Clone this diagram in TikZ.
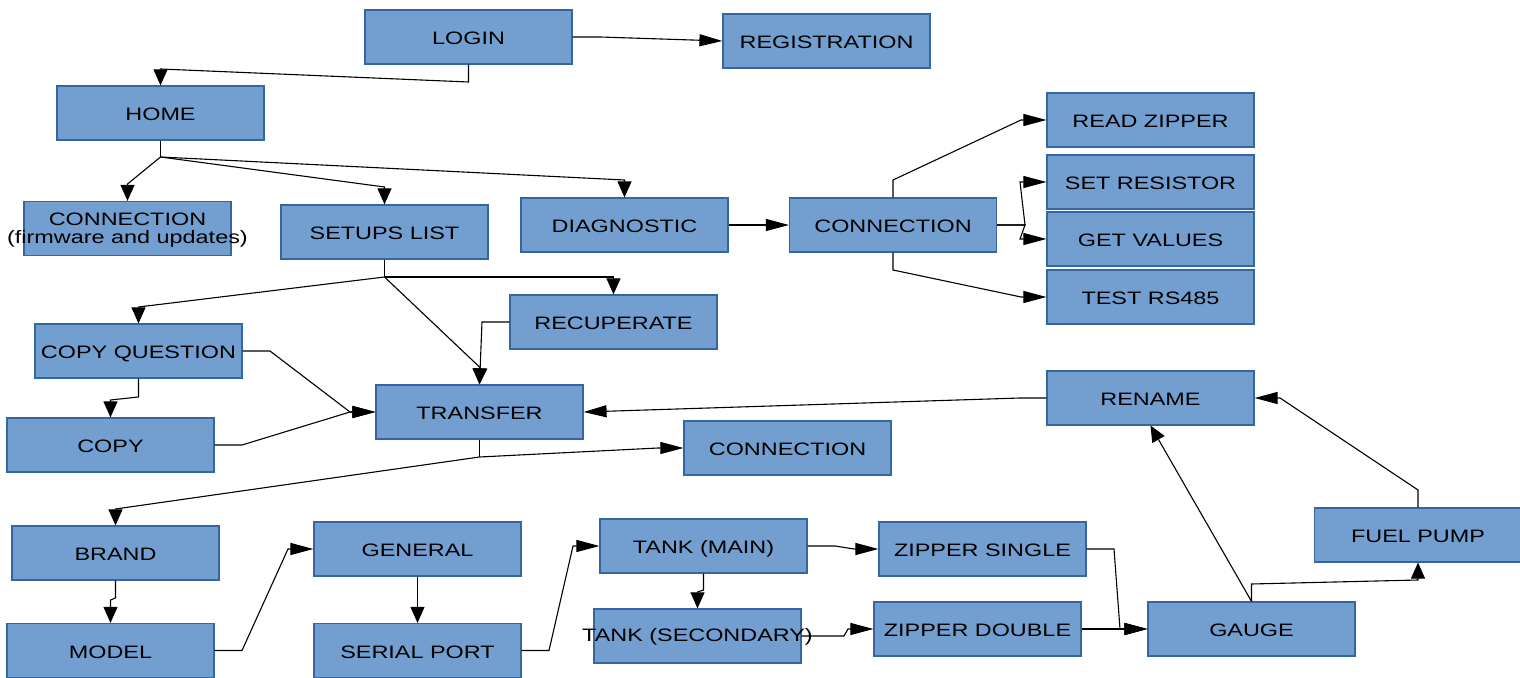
\documentclass[tikz,border=0pt]{standalone}
\usepackage{fontspec}
\newfontfamily\lbl[FakeStretch=1.3]{Liberation Sans}
\usetikzlibrary{arrows.meta}
\definecolor{boxfill}{HTML}{729FCF}
\definecolor{boxline}{HTML}{3465A4}
\begin{document}
\begin{tikzpicture}[x=0.5pt,y=-0.5pt,
  box/.style={draw=boxline, fill=boxfill, line width=0.6pt, minimum width=103.5pt, minimum height=27pt, inner sep=0pt, text height=7.8pt, text depth=0pt, font={\lbl\fontsize{9pt}{9pt}\selectfont}, align=center},
  lab/.style={inner sep=0pt, font={\lbl\fontsize{9pt}{9pt}\selectfont}, align=center},
  plain/.style={line width=0.55pt},
  harr/.style={plain, -{Triangle[length=11.5pt,width=6pt]}},
  varr/.style={plain, -{Triangle[length=8pt,width=7pt]}}]
\useasboundingbox (0,0) rectangle (1520,678);
\fill[white] (0,0) rectangle (1520,678);
% boxes
\node[box] (login) at (468.5,37) {LOGIN};
\node[box] (reg) at (826.5,41) {REGISTRATION};
\node[box] (home) at (160.5,113) {HOME};
\node[box] (conna) at (127.5,228.5) {};
\node[lab] at (127.5,230.5) {CONNECTION\\(firmware and updates)};
\node[box] (setups) at (384.5,232) {SETUPS LIST};
\node[box] (diag) at (624.5,225) {DIAGNOSTIC};
\node[box] (connb) at (893,225) {CONNECTION};
\node[box] (read) at (1150.5,120) {READ ZIPPER};
\node[box] (setr) at (1150.5,182) {SET RESISTOR};
\node[box] (getv) at (1150.5,239) {GET VALUES};
\node[box] (test) at (1150.5,297) {TEST RS485};
\node[box] (cq) at (138.5,351) {COPY QUESTION};
\node[box] (recup) at (613.5,322) {RECUPERATE};
\node[box] (transfer) at (479.5,412) {TRANSFER};
\node[box] (copy) at (110.5,445) {COPY};
\node[box] (connc) at (787.5,448) {CONNECTION};
\node[box] (rename) at (1150.5,398) {RENAME};
\node[box] (brand) at (115.5,553) {BRAND};
\node[box] (model) at (110.5,650.5) {MODEL};
\node[box] (general) at (417.5,549) {GENERAL};
\node[box] (serial) at (417.5,650.5) {SERIAL PORT};
\node[box] (tankm) at (703.5,546) {TANK (MAIN)};
\node[box] (tanks) at (697.5,636) {};
\node[box] (zs) at (982.5,549) {ZIPPER SINGLE};
\node[box] (zd) at (977.5,629) {ZIPPER DOUBLE};
\node[box] (gauge) at (1251.5,629) {GAUGE};
\node[box] (fuel) at (1418,535) {FUEL PUMP};
% connectors
\draw[harr] (login.east) -- (600,37) -- (reg.west);
\draw[varr] (login.south) -- (468.5,82) -- (160.5,69) -- (home.north);
\draw[plain] (home.south) -- (160.5,157) coordinate (hb);
\draw[varr] (hb) -- (127.5,184) -- (conna.north);
\draw[varr] (hb) -- (384.5,187) -- (setups.north);
\draw[varr] (hb) -- (624.5,180) -- (diag.north);
\draw[harr] (diag.east) -- (connb.west);
\draw[harr] (connb.north) -- (893,180) -- (1021,120) -- (read.west);
\draw[harr] (connb.east) -- (1025,225) -- (1020,182) -- (setr.west);
\draw[harr] (connb.east) -- (1025,225) -- (1020,239) -- (getv.west);
\draw[harr] (connb.south) -- (893,270) -- (1021,297) -- (test.west);
\draw[plain] (setups.south) -- (384.5,277) coordinate (sb);
\draw[varr] (sb) -- (138.5,307) -- (cq.north);
\draw[varr] (sb) -- (613.5,277) -- (recup.north);
\draw[varr] (sb) -- (479.5,367) -- (transfer.north);
\draw[varr] (recup.west) -- (482,322) -- (transfer.north);
\draw[harr] (cq.east) -- (270,351) -- (350,412) -- (transfer.west);
\draw[harr] (copy.east) -- (242,445) -- (350,412) -- (transfer.west);
\draw[varr] (cq.south) -- (138.5,397) -- (110.5,400) -- (copy.north);
\draw[plain] (transfer.south) -- (479.5,457) coordinate (tb);
\draw[harr] (tb) -- (658,448) -- (connc.west);
\draw[varr] (tb) -- (115.5,509) -- (brand.north);
\draw[varr] (brand.south) -- (115.5,598) -- (110.5,600) -- (model.north);
\draw[harr] (model.east) -- (242,650.5) -- (288,549) -- (general.west);
\draw[varr] (general.south) -- (serial.north);
\draw[harr] (serial.east) -- (549,650.5) -- (573,546) -- (tankm.west);
\draw[varr] (tankm.south) -- (703.5,590) -- (697.5,592) -- (tanks.north);
\draw[harr] (tankm.east) -- (835,546) -- (854,549) -- (zs.west);
\draw[harr] (tanks.east) -- (844,636) -- (848,629) -- (zd.west);
\draw[harr] (zs.east) -- (1114,549) -- (1120,629) -- (gauge.west);
\draw[harr] (zd.east) -- (gauge.west);
\draw[varr] (gauge.north) -- (rename.south);
\draw[varr] (gauge.north) -- (1251.5,584) -- (1418,580) -- (fuel.south);
\draw[harr] (fuel.north) -- (1418,490) -- (1280,398) -- (rename.east);
\draw[harr] (rename.west) -- (1020,398) -- (transfer.east);
\node[lab] at (697.5,637) {TANK (SECONDARY)};
\end{tikzpicture}
\end{document}
